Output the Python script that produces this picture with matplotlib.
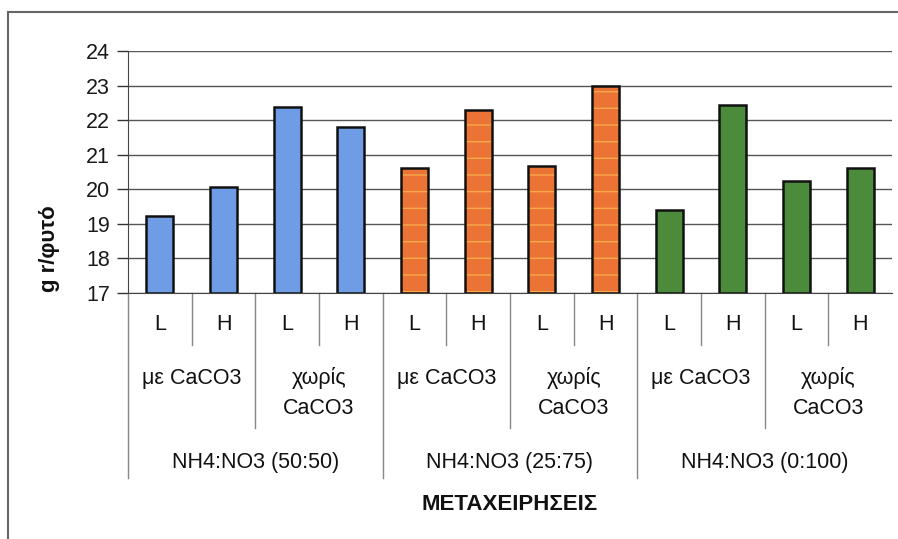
import matplotlib.pyplot as plt
from matplotlib.lines import Line2D
from matplotlib.transforms import blended_transform_factory

plt.rcParams['font.family'] = ['Liberation Sans', 'DejaVu Sans']

# g/φυτό ανά μεταχείριση
levels = ["L", "H", "L", "H", "L", "H", "L", "H", "L", "H", "L", "H"]
caco3 = ["με CaCO3", "χωρίς\nCaCO3", "με CaCO3", "χωρίς\nCaCO3", "με CaCO3", "χωρίς\nCaCO3"]
ratios = ["NH4:NO3 (50:50)", "NH4:NO3 (25:75)", "NH4:NO3 (0:100)"]
values = [19.23, 20.06, 22.38, 21.80, 20.61, 22.29, 20.67, 22.98, 19.40, 22.43, 20.24, 20.61]
colors = ["#6e9de6"] * 4 + ["#ea7335"] * 4 + ["#4b8b3b"] * 4
stripe = ["none"] * 4 + ["#f8a948"] * 4 + ["none"] * 4

W, H = 898, 539
fig = plt.figure(figsize=(W / 100, H / 100), dpi=100)
ax = fig.add_axes([128 / W, 1 - 293 / H, (892 - 128) / W, (293 - 51) / H])

x = list(range(len(values)))
for xi, v, c, s in zip(x, values, colors, stripe):
    if s != "none":
        ax.bar(xi, v - 17, bottom=17, width=0.42, color=c, edgecolor=s,
               hatch="-", linewidth=0, zorder=3)
    else:
        ax.bar(xi, v - 17, bottom=17, width=0.42, color=c, linewidth=0, zorder=3)
    ax.bar(xi, v - 17, bottom=17, width=0.42, fill=False,
           edgecolor="#111111", linewidth=1.8, zorder=4)

ax.set_xlim(-0.5, len(values) - 0.5)
ax.set_ylim(17, 24)
ax.set_yticks(range(17, 25))
ax.tick_params(axis="y", direction="out", length=8, width=1, color="#333333",
               labelsize=15.5, pad=5)
ax.set_xticks([])
for t in ax.get_yticklabels():
    t.set_color("#1a1a1a")

ax.grid(axis="y", color="#555555", linewidth=1, zorder=0)
for side in ["top", "right"]:
    ax.spines[side].set_visible(False)
ax.spines["left"].set_color("#444444")
ax.spines["bottom"].set_color("#444444")
ax.axhline(24, color="#bbbbbb", linewidth=1.2, zorder=1)

# πολυεπίπεδος άξονας κατηγοριών
tr = blended_transform_factory(ax.transData, ax.transAxes)
ph = (293 - 51)


def ya(py):
    return (293 - py) / ph


sep_kw = dict(transform=tr, clip_on=False, color="#888888", linewidth=1)
for k in range(len(values)):
    b = k - 0.5
    if k % 4 == 0:
        bottom = 478
    elif k % 2 == 0:
        bottom = 428
    else:
        bottom = 345
    ax.plot([b, b], [ya(293), ya(bottom)], **sep_kw)

txt_kw = dict(transform=tr, ha="center", va="center", color="#111111", fontsize=15.5)
for xi, lab in zip(x, levels):
    ax.text(xi, ya(325), lab, **txt_kw)
for i, lab in enumerate(caco3):
    cx = 2 * i + 0.5
    if "\n" in lab:
        top, bot = lab.split("\n")
        ax.text(cx, ya(378), top, **txt_kw)
        ax.text(cx, ya(408), bot, **txt_kw)
    else:
        ax.text(cx, ya(378), lab, **txt_kw)
for i, lab in enumerate(ratios):
    ax.text(4 * i + 1.5, ya(462), lab, **txt_kw)

ax.text(5.5, ya(504), "ΜΕΤΑΧΕΙΡΗΣΕΙΣ", transform=tr, ha="center", va="center",
        fontsize=16, fontweight="bold", color="#111111")
fig.text(50 / W, 1 - 249 / H, "g r/φυτό", rotation=90, ha="center", va="center",
         fontsize=16, fontweight="bold", color="#111111")

# πλαίσιο γραφήματος
fig.add_artist(Line2D([8 / W, 1], [1 - 12 / H] * 2, transform=fig.transFigure,
                      color="#666666", linewidth=1.5))
fig.add_artist(Line2D([8 / W] * 2, [0, 1 - 12 / H], transform=fig.transFigure,
                      color="#666666", linewidth=1.5))

fig.savefig("out.png", dpi=100)
